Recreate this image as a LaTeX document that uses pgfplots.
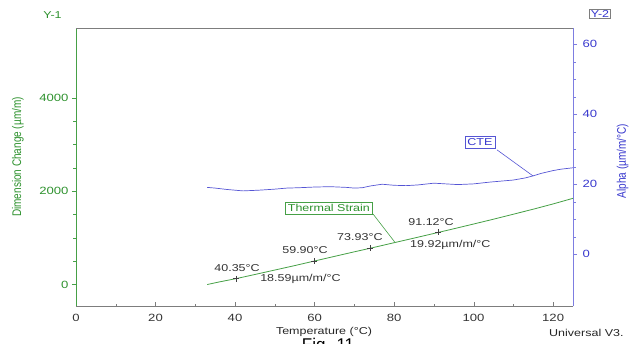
\documentclass[border=0pt]{standalone}
\usepackage{fontspec}
\setmainfont[FakeStretch=1.25]{Liberation Sans}
\newfontfamily\plainfont{Liberation Sans}
\usepackage{pgfplots}
\pgfplotsset{compat=1.18}
\definecolor{gr}{RGB}{45,145,45}
\definecolor{grl}{RGB}{70,160,70}
\definecolor{bl}{RGB}{55,55,205}
\definecolor{bll}{RGB}{125,125,225}
\definecolor{frm}{RGB}{125,125,125}
\pgfplotsset{base/.style={at={(76pt,37.5pt)}, anchor=south west, scale only axis,
  width=497pt, height=278.5pt, xmin=0, xmax=125,
  /pgf/number format/assume math mode=true,
  /pgf/number format/set thousands separator={},
  tick label style={font=\fontsize{10.5}{12}\selectfont},
  major tick length=4pt, minor tick length=2.5pt, clip=false}}
\begin{document}
\begin{tikzpicture}
\useasboundingbox (0pt,0pt) rectangle (635pt,344pt);
% x axis
\begin{axis}[base, ymin=0, ymax=1, axis x line*=bottom, axis y line=none,
  x axis line style={frm,-,line width=0.8pt}, tick align=inside,
  xtick={0,20,...,120}, minor x tick num=1, x tick style={frm},
  x tick label style={black!80, yshift=-4pt}]
\addplot[draw=none] coordinates {(0,0)};
\end{axis}
% Y-1
\begin{axis}[base, ymin=-470, ymax=5490, axis y line*=left, axis x line=none,
  y axis line style={grl,-,line width=0.8pt}, tick align=outside,
  ytick={0,2000,4000}, minor y tick num=3, y tick style={grl},
  y tick label style={gr, xshift=0pt}]
\addplot[grl, line width=0.8pt] coordinates {
(33,0) (36,55) (40.35,128) (45,215) (50,310) (55,405) (59.9,502) (65,602)
(70,700) (73.93,775) (80,895) (85,993) (91.12,1115) (95,1193) (100,1295)
(105,1398) (110,1505) (115,1612) (120,1725) (125,1845)};
\addplot[only marks, mark=+, mark size=3pt, black!75, mark options={line width=0.6pt}] coordinates {
(40.35,128) (59.9,502) (73.93,775) (91.12,1115)};
\node[font=\fontsize{10}{12}\selectfont, text=black!80] at (axis cs:40.5,353) {40.35°C};
\node[font=\fontsize{10}{12}\selectfont, text=black!80, anchor=west, inner sep=0pt] at (axis cs:46.3,118) {18.59µm/m/°C};
\node[font=\fontsize{10}{12}\selectfont, text=black!80] at (axis cs:57.6,739) {59.90°C};
\node[font=\fontsize{10}{12}\selectfont, text=black!80] at (axis cs:71.4,1017) {73.93°C};
\node[font=\fontsize{10}{12}\selectfont, text=black!80] at (axis cs:89.3,1338) {91.12°C};
\node[font=\fontsize{10}{12}\selectfont, text=black!80, anchor=west, inner sep=0pt] at (axis cs:84,846) {19.92µm/m/°C};
\draw[grl, line width=0.6pt] (axis cs:74.7,1510) -- (axis cs:80.2,905);
\node[draw=grl, fill=white, text=gr, inner sep=2.5pt, font=\fontsize{10}{12}\selectfont] at (axis cs:63.6,1638) {Thermal Strain};
\end{axis}
% Y-2
\begin{axis}[base, ymin=-14.9, ymax=64.6, axis y line*=right, axis x line*=top,
  x axis line style={frm,-,line width=0.8pt}, xtick=\empty,
  y axis line style={bll,-,line width=0.8pt}, tick align=outside,
  ytick={0,20,40,60}, minor y tick num=3, y tick style={bll},
  y tick label style={bl, xshift=2pt}]
\addplot[bl!85, line width=0.7pt] coordinates {
(33,19.1) (35,18.9) (38,18.5) (40,18.3) (42,18.1) (44,18.2) (46,18.3)
(50,18.6) (53,18.9) (56,19.0) (60,19.2) (64,19.3) (68,19.1) (70,18.9) (72,19.0)
(74,19.5) (77,20.0) (80,19.7) (83,19.6) (86,19.8) (90,20.3) (93,20.1) (96,19.9)
(100,20.1) (104,20.6) (107,20.9) (110,21.2) (113,21.8) (115,22.4) (117,23.1)
(120,23.9) (122,24.3) (125,24.7)};
\draw[bl!85, line width=0.6pt] (axis cs:105.9,29.8) -- (axis cs:114.9,22.4);
\node[draw=bl!85, fill=white, text=bl, inner sep=2.5pt, font=\fontsize{10}{12}\selectfont] at (axis cs:101.6,32.1) {CTE};
\end{axis}
% outer texts
\node[rotate=90, text=gr, font=\plainfont\fontsize{10}{12}\selectfont] at (18pt,187pt) {\scalebox{1}[1.25]{Dimension Change (µm/m)}};
\node[rotate=90, text=bl, font=\plainfont\fontsize{10}{12}\selectfont] at (622.7pt,183pt) {\scalebox{1}[1.25]{Alpha (µm/m/°C)}};
\node[text=gr, font=\fontsize{10}{12}\selectfont] at (52.5pt,329pt) {Y-1};
\node[draw=frm, text=bl, inner sep=1.2pt, font=\fontsize{10}{12}\selectfont] at (600pt,330.3pt) {Y-2};
\node[text=black!85, font=\fontsize{10}{12}\selectfont] at (324pt,12.3pt) {Temperature (°C)};
\node[text=black!85, anchor=west, inner sep=0pt, font=\fontsize{10}{12}\selectfont] at (549pt,11.3pt) {Universal V3.};
\node[text=black, anchor=north west, inner sep=0pt, font=\plainfont\fontsize{17}{20}\selectfont] at (301.7pt,6pt) {Fig. 11};
\end{tikzpicture}
\end{document}
